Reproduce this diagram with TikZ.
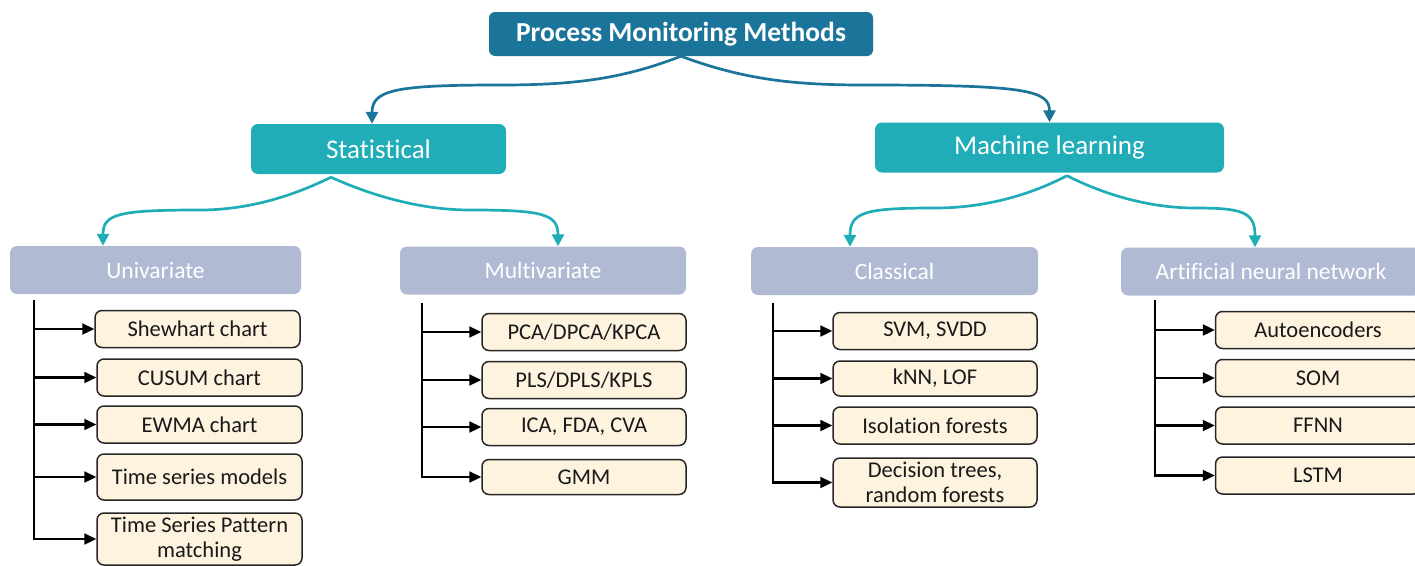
\documentclass[tikz,border=0pt]{standalone}
\usepackage{fontspec}
\setmainfont{Carlito}[Ligatures=NoCommon]
\usetikzlibrary{arrows.meta}
\definecolor{rootblue}{RGB}{27,116,153}
\definecolor{tealcat}{RGB}{32,173,184}
\definecolor{greyblue}{RGB}{176,186,211}
\definecolor{cream}{RGB}{253,243,222}
\begin{document}
\begin{tikzpicture}[x=1pt,y=-1pt,
  box/.style={rectangle, rounded corners=7pt, inner sep=0pt, align=center},
  rootbox/.style={box, fill=rootblue, text=white, rounded corners=6pt,
    font=\fontsize{27.5}{30}\selectfont\bfseries, minimum width=384pt, minimum height=44pt},
  catbox/.style={box, fill=tealcat, text=white, font=\fontsize{27}{30}\selectfont, minimum height=50pt},
  subbox/.style={box, fill=greyblue, text=white, font=\fontsize{23.5}{26}\selectfont, minimum height=48pt},
  leaf/.style={box, fill=cream, draw=black!85, line width=1.5pt, text=black!90,
    font=\fontsize{22.5}{25}\selectfont, minimum width=205pt, minimum height=37pt},
  brace/.style={line width=2.7pt, -{Triangle[length=12pt,width=12pt]}},
  spine/.style={line width=2.3pt, black},
  tick/.style={spine, -{Triangle[length=12pt,width=11pt]}}]
\useasboundingbox (0,0) rectangle (1415,565);
\clip (0,0) rectangle (1415,565);

% top levels
\node[rootbox] (pm) at (681,34) {Process Monitoring Methods};
\node[catbox, minimum width=255pt] (stat) at (378.5,149) {Statistical};
\node[catbox, minimum width=349pt] (ml) at (1049.5,147.5) {Machine learning};

\node[subbox, minimum width=291pt] (uni) at (155.5,270) {Univariate};
\node[subbox, minimum width=286pt] (multi) at (543,270.5) {Multivariate};
\node[subbox, minimum width=287pt] (clas) at (894.5,271) {Classical};
\node[subbox, minimum width=300pt] (ann) at (1271,271.5) {Artificial neural network};

% univariate methods
\node[leaf] (u1) at (197.5,329) {Shewhart chart};
\node[leaf] (u2) at (199.5,377.5) {CUSUM chart};
\node[leaf] (u3) at (199.5,424.5) {EWMA chart};
\node[leaf, minimum height=46pt] (u4) at (199.5,477) {Time series models};
\node[leaf, minimum height=52pt] (u5) at (199.5,539) {Time Series Pattern\\matching};

% multivariate methods
\node[leaf, minimum width=204pt] (m1) at (584,332) {PCA/DPCA/KPCA};
\node[leaf, minimum width=204pt] (m2) at (584,380) {PLS/DPLS/KPLS};
\node[leaf, minimum width=204pt] (m3) at (584,427) {ICA, FDA, CVA};
\node[leaf, minimum width=204pt, minimum height=35pt] (m4) at (584,477) {GMM};

% classical machine learning
\node[leaf, minimum width=204pt] (c1) at (935,331) {SVM, SVDD};
\node[leaf, minimum width=204pt, minimum height=35pt] (c2) at (935,378.5) {kNN, LOF};
\node[leaf, minimum width=204pt] (c3) at (935,425.5) {Isolation forests};
\node[leaf, minimum width=204pt, minimum height=49pt] (c4) at (935,482.5) {Decision trees,\\random forests};

% neural networks
\node[leaf] (a1) at (1318,330) {Autoencoders};
\node[leaf] (a2) at (1318,378) {SOM};
\node[leaf] (a3) at (1318,425.5) {FFNN};
\node[leaf] (a4) at (1318,475.5) {LSTM};

% branching curves
\coordinate (statP) at ([xshift=-47.5pt,yshift=-3pt]stat.south);
\coordinate (mlP) at ([xshift=17.5pt,yshift=-3pt]ml.south);

\draw[brace, rootblue] (pm.south) .. controls (620,80) and (570,85) .. (500,85)
  .. controls (395,85) and (372,90) .. ([xshift=-6.5pt]stat.north);
\draw[brace, rootblue] (pm.south) .. controls (745,80) and (795,85) .. (865,85)
  .. controls (1025,85) and (1049.5,90) .. (ml.north);

\draw[brace, tealcat] (statP) .. controls (295,195) and (250,210) .. (200,210)
  .. controls (118,210) and (103,214) .. ([xshift=-52.5pt]uni.north);
\draw[brace, tealcat] (statP) .. controls (370,195) and (420,210) .. (470,210)
  .. controls (543,210) and (558,214) .. ([xshift=15pt]multi.north);
\draw[brace, tealcat] (mlP) .. controls (1030,195) and (985,208) .. (935,208)
  .. controls (865,208) and (850,212) .. ([xshift=-44.5pt]clas.north);
\draw[brace, tealcat] (mlP) .. controls (1105,195) and (1150,208) .. (1195,208)
  .. controls (1243,208) and (1255,212) .. ([xshift=-16pt]ann.north);

% method lists
\coordinate (uniTop) at ([xshift=24pt,yshift=-6pt]uni.south west);
\coordinate (multiTop) at ([xshift=22pt,yshift=-8pt]multi.south west);
\coordinate (clasTop) at ([xshift=22pt,yshift=-8pt]clas.south west);
\coordinate (annTop) at ([xshift=34pt,yshift=-4pt]ann.south west);

\draw[tick] (uniTop) |- (u5.west);
\foreach \n in {u1,u2,u3,u4} \draw[tick] (uniTop |- \n.west) -- (\n.west);
\draw[tick] (multiTop) |- (m4.west);
\foreach \n in {m1,m2,m3} \draw[tick] (multiTop |- \n.west) -- (\n.west);
\draw[tick] (clasTop) |- (c4.west);
\foreach \n in {c1,c2,c3} \draw[tick] (clasTop |- \n.west) -- (\n.west);
\draw[tick] (annTop) |- (a4.west);
\foreach \n in {a1,a2,a3} \draw[tick] (annTop |- \n.west) -- (\n.west);
\end{tikzpicture}
\end{document}
